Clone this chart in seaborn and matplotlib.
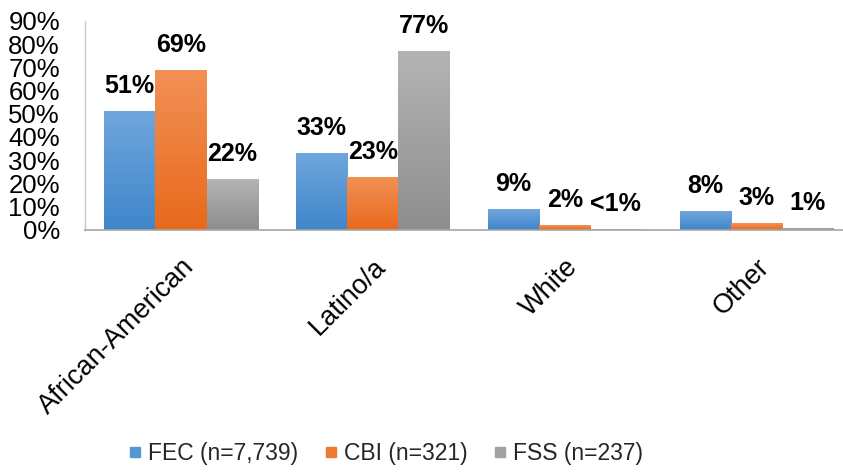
import numpy as np
import pandas as pd
import matplotlib
matplotlib.use("Agg")
import matplotlib.pyplot as plt
import seaborn as sns
from matplotlib.colors import to_rgb
from matplotlib.lines import Line2D

# ========== DATA ==========
GROUPS = ["African-American", "Latino/a", "White", "Other"]
SERIES = ["FEC (n=7,739)", "CBI (n=321)", "FSS (n=237)"]
FEC = [0.51, 0.33, 0.09, 0.08]
CBI = [0.69, 0.23, 0.02, 0.03]
FSS = [0.22, 0.77, 0.003, 0.01]
FEC_LABELS = ["51%", "33%", "9%", "8%"]
CBI_LABELS = ["69%", "23%", "2%", "3%"]
FSS_LABELS = ["22%", "77%", "<1%", "1%"]
Y_TICKS = [0, 0.1, 0.2, 0.3, 0.4, 0.5, 0.6, 0.7, 0.8, 0.9]

# (top, bottom) gradient colours per series
GRADS = [("#6fa6dc", "#3f86cb"), ("#f29156", "#e8691c"), ("#b4b4b4", "#8e8e8e")]
MID = ["#5597d4", "#ed7b35", "#a2a2a2"]

# ========== PLOT ==========
sns.set_theme(style="white")
plt.rcParams["font.family"] = ["Liberation Sans", "DejaVu Sans"]

df = pd.DataFrame({
    "group": GROUPS * 3,
    "series": [s for s in SERIES for _ in GROUPS],
    "value": FEC + CBI + FSS,
})
all_labels = [FEC_LABELS, CBI_LABELS, FSS_LABELS]

fig = plt.figure(figsize=(8.43, 4.74), dpi=100)
ax = fig.add_axes([0.1008, 0.5148, 0.8992, 0.4414])

sns.barplot(data=df, x="group", y="value", hue="series", order=GROUPS,
            hue_order=SERIES, palette=MID, saturation=1, width=0.8,
            errorbar=None, legend=False, ax=ax)

# gradient fill for each bar, clipped to the bar rectangle
for cont, (top, bot) in zip(ax.containers, GRADS):
    grad = np.linspace(to_rgb(bot), to_rgb(top), 64).reshape(64, 1, 3)
    for bar in cont:
        x0, y0 = bar.get_x(), bar.get_y()
        w, h = bar.get_width(), bar.get_height()
        if h <= 0:
            continue
        im = ax.imshow(grad, extent=(x0, x0 + w, y0, y0 + h), origin="lower",
                       aspect="auto", zorder=bar.get_zorder() + 0.1)
        im.set_clip_path(bar)

for cont, labs in zip(ax.containers, all_labels):
    for bar, lab in zip(cont, labs):
        ax.annotate(lab, (bar.get_x() + bar.get_width() / 2, bar.get_height()),
                    xytext=(0, 18), textcoords="offset points", ha="center",
                    va="center", fontsize=18, fontweight="bold", color="black")

ax.set_xlim(-0.5, 3.45)
ax.set_ylim(0, 0.9)
ax.set_yticks(Y_TICKS)
ax.set_yticklabels([f"{int(round(t * 100))}%" for t in Y_TICKS])
ax.set_xlabel("")
ax.set_ylabel("")

ax.tick_params(axis="y", length=0, pad=18, labelsize=18.5, labelcolor="black")
ax.tick_params(axis="x", length=0, pad=17, labelsize=19.5, labelcolor="black")
plt.setp(ax.get_xticklabels(), rotation=45, ha="right", va="top",
         rotation_mode="anchor")

for side in ["top", "right"]:
    ax.spines[side].set_visible(False)
ax.spines["left"].set_color("#c8c8c8")
ax.spines["bottom"].set_color("#a6a6a6")
ax.spines["left"].set_linewidth(1.0)
ax.spines["bottom"].set_linewidth(1.2)

handles = [Line2D([], [], marker="s", linestyle="", color=c, markersize=6.5)
           for c in MID]
fig.legend(handles, SERIES, loc="center", bbox_to_anchor=(0.458, 0.044),
           ncol=3, frameon=False, fontsize=16.5, handlelength=0.5,
           handletextpad=0.3, columnspacing=1.2)

fig.savefig("out.png", dpi=100)
